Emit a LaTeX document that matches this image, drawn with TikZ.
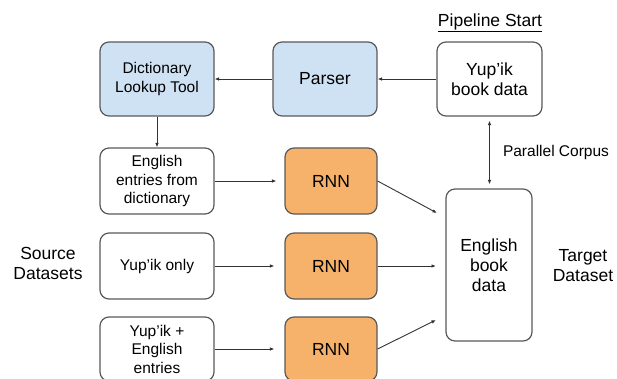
\documentclass[tikz,border=0pt]{standalone}
\usepackage{fontspec}
\setmainfont{Liberation Sans}
\usetikzlibrary{arrows.meta,calc}
\definecolor{bluefill}{HTML}{CFE2F3}
\definecolor{orangefill}{HTML}{F6B26B}
\definecolor{edgegray}{HTML}{595959}
\definecolor{arrowgray}{HTML}{333333}
\begin{document}
\begin{tikzpicture}[x=1pt,y=-1pt,
  box/.style={draw=edgegray,line width=1.2pt,rounded corners=9pt,align=center,inner sep=0pt},
  small/.style={font=\fontsize{15.5}{18.5}\selectfont},
  big/.style={font=\fontsize{17.5}{20}\selectfont},
  conn/.style={draw=arrowgray,line width=0.9pt,-{Latex[length=4.5pt,width=3.6pt]}},
  label/.style={align=center,inner sep=0pt}]
\useasboundingbox (0,0) rectangle (617,379);
\clip (0,0) rectangle (617,379);
% boxes
\node[box,small,fill=bluefill,minimum width=114pt,minimum height=74pt] (dict) at (157,79) {Dictionary\\Lookup Tool};
\node[box,big,fill=bluefill,minimum width=104pt,minimum height=74pt] (parser) at (325,79) {Parser};
\node[box,big,fill=white,minimum width=105pt,minimum height=74pt] (ybook) at (489.5,79) {Yup’ik\\book data};
\node[box,small,fill=white,minimum width=114pt,minimum height=66pt] (eng) at (157,181) {English\\entries from\\dictionary};
\node[box,big,fill=orangefill,minimum width=92pt,minimum height=66pt] (rnn1) at (331,181) {RNN};
\node[box,small,fill=white,minimum width=114pt,minimum height=66pt] (yonly) at (157,266) {Yup’ik only};
\node[box,big,fill=orangefill,minimum width=92pt,minimum height=66pt] (rnn2) at (331,266) {RNN};
\node[box,small,fill=white,minimum width=114pt,minimum height=64pt] (ybe) at (157,349) {Yup’ik +\\English\\entries};
\node[box,big,fill=orangefill,minimum width=92pt,minimum height=64pt] (rnn3) at (331,349) {RNN};
\node[box,big,fill=white,minimum width=86pt,minimum height=152pt] (ebook) at (489,265) {English\\book\\data};
% labels
\node[label,big] (pstart) at (490,23) {\underline{Pipeline Start}};
\node[label,small] (pc) at (556,152) {Parallel Corpus};
\node[label,big] (src) at (48,263) {Source\\Datasets};
\node[label,big] (tgt) at (583,266) {Target\\Dataset};
% arrow end points
\coordinate (in1) at (437,213);
\coordinate (in2) at (436,266);
\coordinate (in3) at (436,320);
% connectors
\draw[conn] (ybook.west) -- (parser.east);
\draw[conn] (parser.west) -- (dict.east);
\draw[conn] (dict.south) -- (eng.north);
\draw[draw=arrowgray,line width=0.9pt,{Latex[length=4.5pt,width=3.6pt]}-{Latex[length=4.5pt,width=3.6pt]},shorten <=4pt,shorten >=4pt] (ybook.south) -- (ybook.south |- ebook.north);
\draw[conn,shorten >=8pt] (eng.east) -- (rnn1.west);
\draw[conn,shorten >=10pt] (yonly.east) -- (rnn2.west);
\draw[conn,shorten >=10pt] (ybe.east) -- (rnn3.west);
\draw[conn] (rnn1.east) -- (in1);
\draw[conn] (rnn2.east) -- (in2);
\draw[conn] (rnn3.east) -- (in3);
\end{tikzpicture}
\end{document}
